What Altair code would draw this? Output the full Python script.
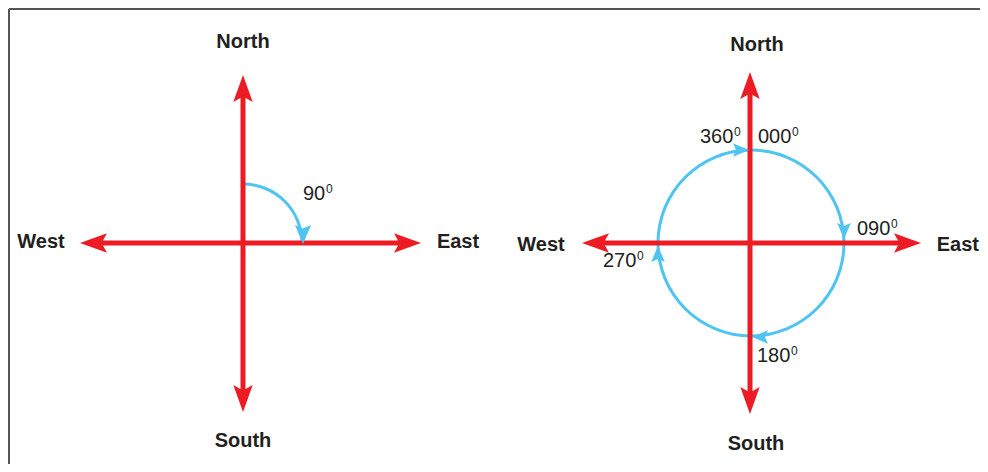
import math
import altair as alt
import pandas as pd

RED = "#ed1c24"
BLUE = "#4fc4f1"
INK = "#231f20"
FRAME = "#555555"

# ---- data (reference pixel coordinates) ----
# red compass shafts
shaft_x1 = [243, 95, 750, 597]
shaft_y1 = [92, 243, 88, 243]
shaft_x2 = [243, 406, 750, 906]
shaft_y2 = [397, 243, 398, 243]

# red arrowheads: tip position and direction (deg, clockwise from north)
red_tip_x = [243, 243, 80, 421, 750, 750, 582, 921]
red_tip_y = [75, 412, 243, 243, 72, 414, 243, 243]
red_dir = [0, 180, 270, 90, 0, 180, 270, 90]
RED_LEN = 27

# blue bearing arcs
arc_cx = [243, 751]
arc_cy = [243, 243]
arc_r = [59, 93]
arc_t0 = [0.0, 0.0]
arc_t1 = [math.pi / 2, 2 * math.pi]

# blue arrowheads
blue_tip_x = [303, 749, 844, 752, 658]
blue_tip_y = [244, 150, 239, 337, 246]
blue_dir = [180, 90, 180, 270, 0]
blue_len = [19, 16, 16, 16, 16]

# cardinal labels (anchor x, centre y, alignment)
card_text = ["North", "South", "West", "East", "North", "South", "West", "East"]
card_x = [243, 243, 41, 458, 757, 756, 541, 979]
card_y = [42, 441, 242, 242, 45, 444, 245, 245]
card_al = ["center", "center", "center", "center", "center", "center", "center", "right"]

# bearing labels (start x, baseline y) and superscript zero
deg_text = ["90", "360", "000", "090", "270", "180"]
deg_x = [303, 700, 758, 857, 603, 757]
deg_y = [200, 143, 143, 235, 267, 362]
sup_x = [326, 734, 792, 891, 637, 791]
sup_y = [193, 136, 136, 228, 260, 355]

# frame (clipped by the page edge like the reference)
frame_x1 = [9, 9]
frame_y1 = [9, 9]
frame_x2 = [990, 9]
frame_y2 = [9, 480]

# ---- scales: map reference pixels onto the plot area ----
W, H = 972, 456
xs = alt.Scale(domain=[8, 8 + W], range=[0, W])
ys = alt.Scale(domain=[8, 8 + H], range=[0, H])


def X(f):
    return alt.X(f, type="quantitative", scale=xs, axis=None)


def Y(f):
    return alt.Y(f, type="quantitative", scale=ys, axis=None)


def heads(tx, ty, dirs, lens):
    rows = []
    for x, y, d, L in zip(tx, ty, dirs, lens):
        a = math.radians(d)
        rows.append(dict(x=x - L / 2 * math.sin(a), y=y + L / 2 * math.cos(a),
                         ang=d, sz=L * L))
    return pd.DataFrame(rows)


ARROW = "M0,-1L0.72,1L0,0.6L-0.72,1Z"
ARROW_B = "M0,-1L0.85,1L0,0.62L-0.85,1Z"

frame = alt.Chart(pd.DataFrame(dict(x=frame_x1, y=frame_y1, x2=frame_x2, y2=frame_y2))).mark_rule(
    color=FRAME, strokeWidth=2
).encode(x=X("x"), y=Y("y"), x2="x2", y2="y2")

arcs = alt.Chart(pd.DataFrame(dict(x=arc_cx, y=arc_cy, r=[r + 1.5 for r in arc_r],
                                   r2=[r - 1.5 for r in arc_r], t0=arc_t0, t1=arc_t1))).mark_arc(
    color=BLUE
).encode(
    x=X("x"), y=Y("y"),
    theta=alt.Theta("t0:Q", scale=None, stack=None), theta2="t1:Q",
    radius=alt.Radius("r:Q", scale=None), radius2="r2:Q",
)

shafts = alt.Chart(pd.DataFrame(dict(x=shaft_x1, y=shaft_y1, x2=shaft_x2, y2=shaft_y2))).mark_rule(
    color=RED, strokeWidth=5
).encode(x=X("x"), y=Y("y"), x2="x2", y2="y2")

red_heads = alt.Chart(heads(red_tip_x, red_tip_y, red_dir, [RED_LEN] * len(red_dir))).mark_point(
    shape=ARROW, filled=True, color=RED, opacity=1, strokeWidth=0
).encode(x=X("x"), y=Y("y"), angle=alt.Angle("ang:Q", scale=None), size=alt.Size("sz:Q", scale=None))

blue_heads = alt.Chart(heads(blue_tip_x, blue_tip_y, blue_dir, blue_len)).mark_point(
    shape=ARROW_B, filled=True, color=BLUE, opacity=1, strokeWidth=0
).encode(x=X("x"), y=Y("y"), angle=alt.Angle("ang:Q", scale=None), size=alt.Size("sz:Q", scale=None))

card_df = pd.DataFrame(dict(t=card_text, x=card_x, y=card_y, al=card_al))
cards_c = alt.Chart(card_df).transform_filter(alt.datum.al == "center").mark_text(
    font="Liberation Sans", fontSize=20, fontWeight="bold", color=INK, align="center", baseline="middle"
).encode(x=X("x"), y=Y("y"), text="t:N")
cards_r = alt.Chart(card_df).transform_filter(alt.datum.al == "right").mark_text(
    font="Liberation Sans", fontSize=20, fontWeight="bold", color=INK, align="right", baseline="middle"
).encode(x=X("x"), y=Y("y"), text="t:N")

degs = alt.Chart(pd.DataFrame(dict(t=deg_text, x=deg_x, y=deg_y))).mark_text(
    font="Liberation Sans", fontSize=20, color=INK, align="left", baseline="alphabetic"
).encode(x=X("x"), y=Y("y"), text="t:N")

sups = alt.Chart(pd.DataFrame(dict(t=["0"] * len(sup_x), x=sup_x, y=sup_y))).mark_text(
    font="Liberation Sans", fontSize=12, color=INK, align="left", baseline="alphabetic"
).encode(x=X("x"), y=Y("y"), text="t:N")

chart = alt.layer(frame, arcs, shafts, red_heads, blue_heads, cards_c, cards_r, degs, sups).properties(
    width=W, height=H, autosize=alt.AutoSizeParams(type="none"), padding=0
).configure_view(stroke=None)

chart.save("out.html", embed_options={"renderer": "svg", "actions": False})
